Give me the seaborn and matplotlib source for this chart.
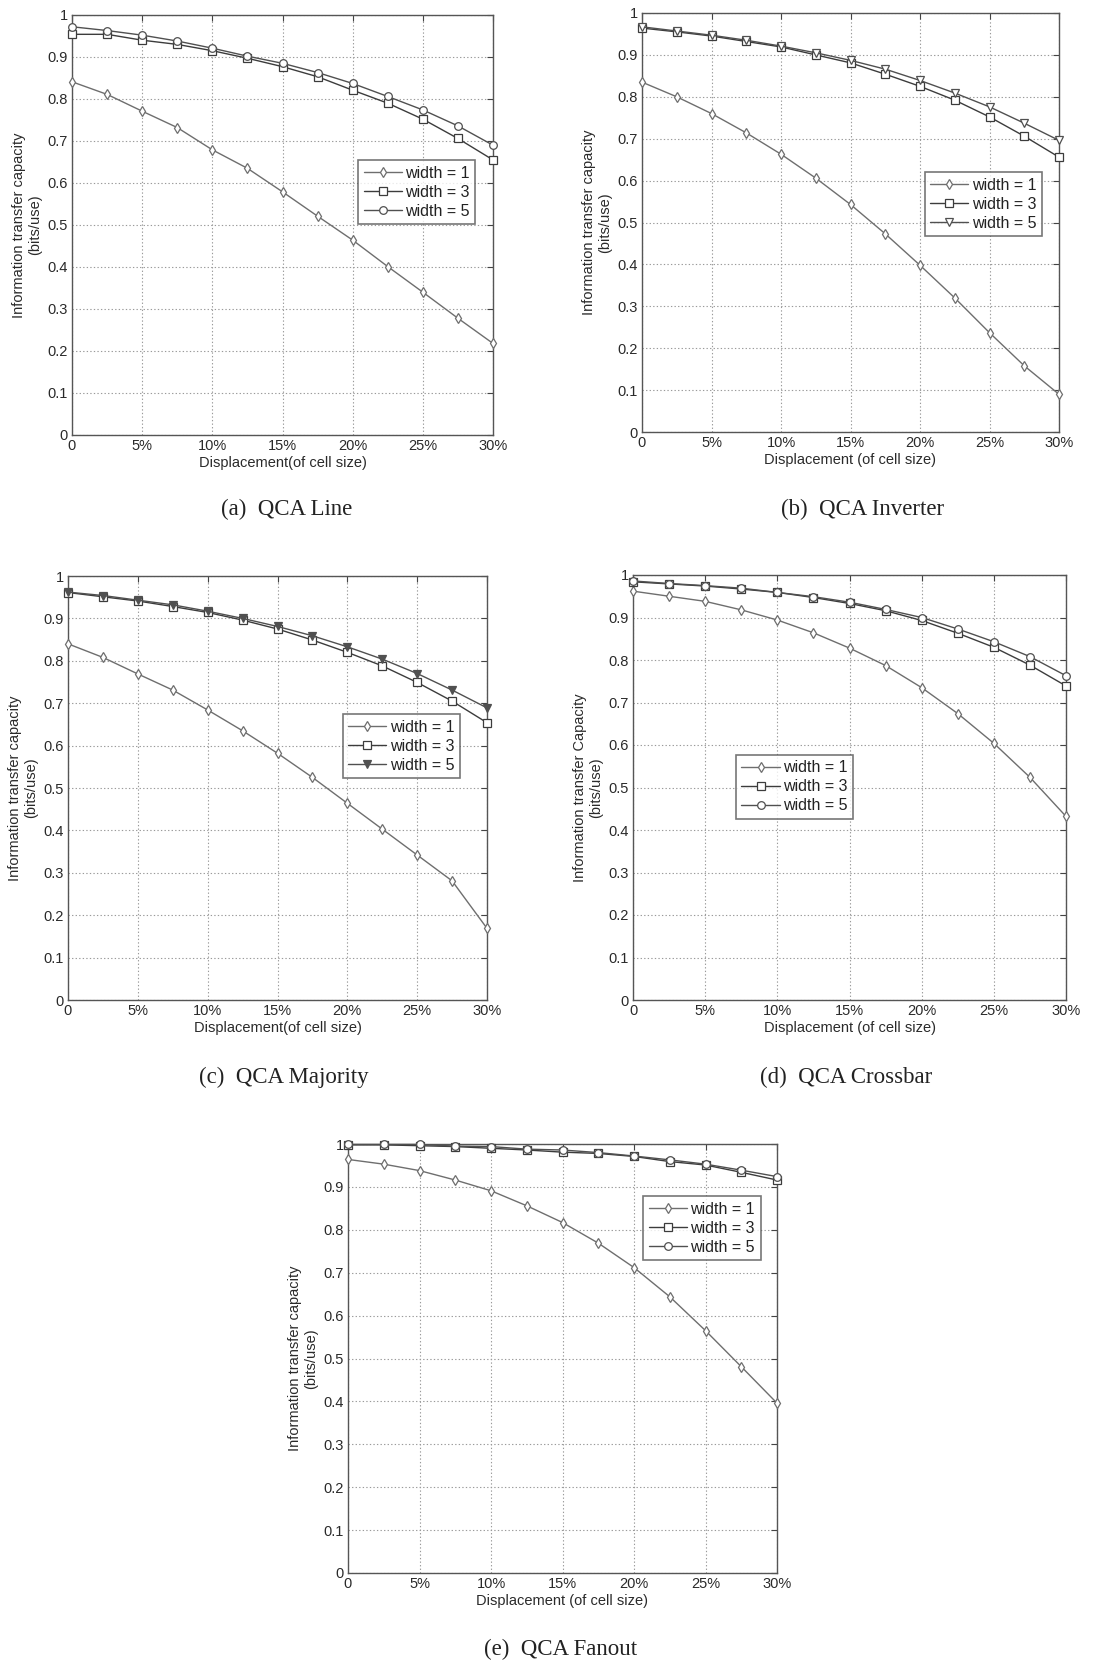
import matplotlib
matplotlib.use("Agg")
import matplotlib.pyplot as plt
import pandas as pd
import seaborn as sns

# ---------------- data ----------------
displacement = [0, 2.5, 5, 7.5, 10, 12.5, 15, 17.5, 20, 22.5, 25, 27.5, 30]
x_tick_vals = [0, 5, 10, 15, 20, 25, 30]
x_tick_labels = ["0", "5%", "10%", "15%", "20%", "25%", "30%"]
y_tick_vals = [0, 0.1, 0.2, 0.3, 0.4, 0.5, 0.6, 0.7, 0.8, 0.9, 1.0]
y_tick_labels = ["0", "0.1", "0.2", "0.3", "0.4", "0.5", "0.6", "0.7", "0.8", "0.9", "1"]
series_labels = ["width = 1", "width = 3", "width = 5"]

# (a) QCA Line
line_w1 = [0.841, 0.811, 0.771, 0.732, 0.679, 0.635, 0.579, 0.521, 0.464, 0.401, 0.340, 0.278, 0.218]
line_w3 = [0.954, 0.954, 0.940, 0.930, 0.915, 0.897, 0.877, 0.853, 0.821, 0.790, 0.752, 0.706, 0.655]
line_w5 = [0.972, 0.963, 0.952, 0.938, 0.921, 0.902, 0.885, 0.863, 0.837, 0.806, 0.774, 0.736, 0.690]
# (b) QCA Inverter
inv_w1 = [0.835, 0.800, 0.760, 0.714, 0.663, 0.606, 0.543, 0.473, 0.398, 0.320, 0.237, 0.158, 0.090]
inv_w3 = [0.964, 0.955, 0.945, 0.932, 0.919, 0.900, 0.881, 0.854, 0.825, 0.792, 0.752, 0.706, 0.656]
inv_w5 = [0.967, 0.957, 0.947, 0.935, 0.921, 0.905, 0.887, 0.866, 0.839, 0.809, 0.776, 0.737, 0.696]
# (c) QCA Majority
maj_w1 = [0.840, 0.808, 0.769, 0.731, 0.684, 0.635, 0.582, 0.525, 0.464, 0.403, 0.342, 0.281, 0.169]
maj_w3 = [0.961, 0.951, 0.941, 0.928, 0.914, 0.896, 0.875, 0.849, 0.820, 0.788, 0.749, 0.705, 0.654]
maj_w5 = [0.962, 0.954, 0.943, 0.932, 0.917, 0.900, 0.881, 0.859, 0.833, 0.804, 0.770, 0.731, 0.689]
# (d) QCA Crossbar
cross_w1 = [0.962, 0.950, 0.938, 0.918, 0.894, 0.864, 0.828, 0.787, 0.735, 0.674, 0.604, 0.524, 0.432]
cross_w3 = [0.984, 0.979, 0.974, 0.967, 0.959, 0.947, 0.933, 0.916, 0.893, 0.863, 0.830, 0.788, 0.739]
cross_w5 = [0.986, 0.980, 0.975, 0.969, 0.959, 0.949, 0.936, 0.919, 0.900, 0.873, 0.843, 0.808, 0.763]
# (e) QCA Fanout
fan_w1 = [0.964, 0.953, 0.938, 0.916, 0.891, 0.856, 0.817, 0.769, 0.712, 0.644, 0.565, 0.481, 0.396]
fan_w3 = [0.998, 0.998, 0.996, 0.994, 0.990, 0.986, 0.981, 0.978, 0.971, 0.959, 0.951, 0.934, 0.916]
fan_w5 = [0.999, 0.999, 0.999, 0.995, 0.994, 0.988, 0.986, 0.980, 0.972, 0.963, 0.953, 0.939, 0.924]

captions = ["(a)  QCA Line", "(b)  QCA Inverter", "(c)  QCA Majority",
            "(d)  QCA Crossbar", "(e)  QCA Fanout"]
xlabels = ["Displacement(of cell size)", "Displacement (of cell size)",
           "Displacement(of cell size)", "Displacement (of cell size)",
           "Displacement (of cell size)"]
ylabels = ["Information transfer capacity\n(bits/use)",
           "Information transfer capacity\n(bits/use)",
           "Information transfer capacity\n(bits/use)",
           "Information transfer Capacity\n(bits/use)",
           "Information transfer capacity\n(bits/use)"]

# ---------------- style ----------------
sns.set_theme(style="white")
plt.rcParams["font.family"] = ["Liberation Sans", "DejaVu Sans"]

W, H = 1115, 1663
fig = plt.figure(figsize=(W / 100, H / 100), dpi=100)
fig.patch.set_facecolor("white")


def px_axes(l, t, r, b):
    return fig.add_axes([l / W, (H - b) / H, (r - l) / W, (b - t) / H])


panels = [
    dict(box=(72, 15, 493, 435), data=[line_w1, line_w3, line_w5],
         markers=["d", "s", "o"], filled=[False, False, False],
         leg=(0.819, 0.578), cap=(287, 509)),
    dict(box=(642, 13, 1059, 432), data=[inv_w1, inv_w3, inv_w5],
         markers=["d", "s", "v"], filled=[False, False, False],
         leg=(0.818, 0.544), cap=(863, 509)),
    dict(box=(68, 576, 487, 1000), data=[maj_w1, maj_w3, maj_w5],
         markers=["d", "s", "v"], filled=[False, False, True],
         leg=(0.795, 0.599), cap=(284, 1077)),
    dict(box=(633, 575, 1066, 1000), data=[cross_w1, cross_w3, cross_w5],
         markers=["d", "s", "o"], filled=[False, False, False],
         leg=(0.373, 0.502), cap=(846, 1077)),
    dict(box=(348, 1144, 777, 1573), data=[fan_w1, fan_w3, fan_w5],
         markers=["d", "s", "o"], filled=[False, False, False],
         leg=(0.825, 0.804), cap=(561, 1649)),
]

colors = ["#6e6e6e", "#3c3c3c", "#505050"]
msizes = {"d": 5.5, "s": 5.5, "o": 5.5, "v": 6}

for i, p in enumerate(panels):
    ax = px_axes(*p["box"])
    ax.set_facecolor("white")
    for j, ys in enumerate(p["data"]):
        df = pd.DataFrame({"x": displacement, "y": ys})
        c = colors[j]
        sns.lineplot(data=df, x="x", y="y", ax=ax, color=c, linewidth=1.0,
                     marker=p["markers"][j], markersize=msizes[p["markers"][j]],
                     markerfacecolor=(c if p["filled"][j] else "white"),
                     markeredgecolor=c, markeredgewidth=0.9,
                     label=series_labels[j], zorder=3, clip_on=False)
    ax.set_xlim(0, 30)
    ax.set_ylim(0, 1)
    ax.set_xticks(x_tick_vals)
    ax.set_xticklabels(x_tick_labels)
    ax.set_yticks(y_tick_vals)
    ax.set_yticklabels(y_tick_labels)
    ax.tick_params(direction="in", length=4, width=0.8, colors="#444444",
                   labelsize=10.5, labelcolor="#2a2a2a", top=True, right=True, pad=3)
    ax.grid(True, linestyle=(0, (1.2, 2.0)), color="#9a9a9a", linewidth=0.8)
    ax.set_axisbelow(True)
    for s in ax.spines.values():
        s.set_visible(True)
        s.set_color("#555555")
        s.set_linewidth(1.0)
    ax.set_xlabel(xlabels[i], fontsize=10.5, color="#2a2a2a", labelpad=2)
    ax.set_ylabel(ylabels[i], fontsize=10.5, color="#2a2a2a", labelpad=4,
                  linespacing=1.15)
    leg = ax.legend(loc="center", bbox_to_anchor=p["leg"], fontsize=11.5,
                    frameon=True, fancybox=False, handlelength=2.4,
                    handletextpad=0.2, labelspacing=0.25, borderpad=0.35,
                    borderaxespad=0)
    leg.get_frame().set_edgecolor("#555555")
    leg.get_frame().set_linewidth(1.2)
    leg.set_zorder(5)
    for t in leg.get_texts():
        t.set_color("#222222")
    fig.text(p["cap"][0] / W, (H - p["cap"][1]) / H, captions[i],
             ha="center", va="center", fontsize=16.5,
             family=["Liberation Serif", "DejaVu Serif"], color="#222222")

fig.savefig("out.png", dpi=100, facecolor="white")
